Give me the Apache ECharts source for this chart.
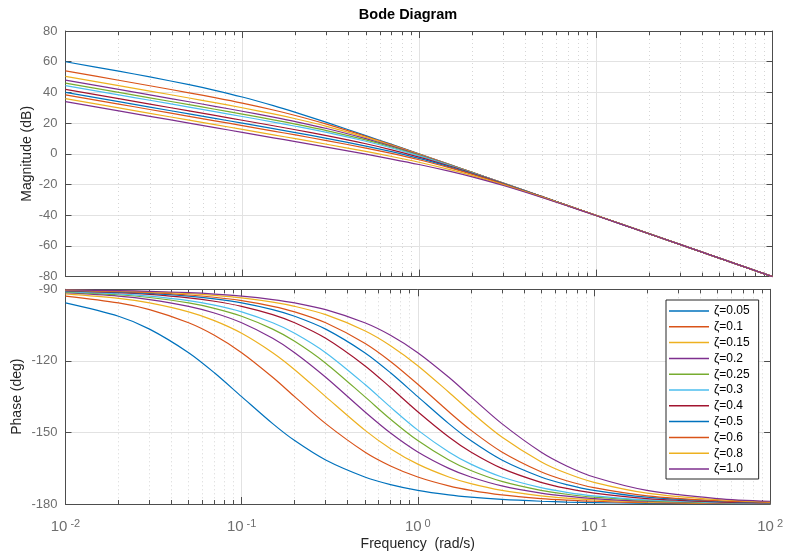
<!DOCTYPE html>
<html><head><meta charset="utf-8">
<script src="https://cdn.jsdelivr.net/npm/echarts@6/dist/echarts.min.js"></script>
<style>html,body{margin:0;padding:0;background:#fff}#c{width:786px;height:552px}</style>
</head><body><div id="c"></div>
<script>
// ---- data ----
const freq = [0.01,0.02,0.03,0.05,0.07,0.1,0.15,0.2,0.3,0.5,0.7,1,1.5,2,3,5,7,10,20,50,100];
const zetaNames = ['ζ=0.05','ζ=0.1','ζ=0.15','ζ=0.2','ζ=0.25','ζ=0.3','ζ=0.4','ζ=0.5','ζ=0.6','ζ=0.8','ζ=1.0'];

const mag_005 = [59.96,53.81,50.08,45.05,41.37,36.99,31.36,26.99,20.46,11.87,6.11,-0.04,-7.06,-12.05,-19.09,-27.96,-33.81,-40.00,-52.04,-67.96,-80.00];
const mag_010 = [53.97,47.92,44.34,39.74,36.58,33.01,28.52,24.95,19.32,11.40,5.86,-0.17,-7.12,-12.09,-19.10,-27.97,-33.81,-40.00,-52.04,-67.96,-80.00];
const mag_015 = [50.45,44.42,40.87,36.36,33.33,30.00,25.97,22.84,17.91,10.71,5.46,-0.37,-7.21,-12.14,-19.13,-27.97,-33.81,-40.00,-52.04,-67.96,-80.00];
const mag_020 = [47.96,41.93,38.39,33.91,30.93,27.70,23.87,20.97,16.48,9.89,4.97,-0.64,-7.34,-12.21,-19.16,-27.99,-33.82,-40.01,-52.04,-67.96,-80.00];
const mag_025 = [46.02,39.99,36.46,32.00,29.03,25.85,22.12,19.36,15.14,9.03,4.41,-0.97,-7.50,-12.30,-19.20,-28.00,-33.83,-40.01,-52.04,-67.96,-80.00];
const mag_030 = [44.44,38.41,34.88,30.43,27.48,24.32,20.65,17.96,13.93,8.17,3.80,-1.34,-7.69,-12.42,-19.25,-28.02,-33.84,-40.02,-52.05,-67.96,-80.00];
const mag_040 = [41.94,35.91,32.39,27.94,25.00,21.87,18.27,15.65,11.82,6.53,2.57,-2.15,-8.13,-12.69,-19.38,-28.07,-33.86,-40.03,-52.05,-67.96,-80.00];
const mag_050 = [40.00,33.98,30.45,26.01,23.08,19.96,16.38,13.81,10.08,5.05,1.37,-3.01,-8.64,-13.01,-19.54,-28.13,-33.89,-40.04,-52.05,-67.96,-80.00];
const mag_060 = [38.42,32.39,28.87,24.43,21.50,18.39,14.83,12.28,8.61,3.74,0.24,-3.87,-9.19,-13.38,-19.73,-28.20,-33.93,-40.06,-52.06,-67.96,-80.00];
const mag_080 = [35.92,29.90,26.37,21.93,19.01,15.90,12.36,9.83,6.23,1.53,-1.75,-5.51,-10.34,-14.19,-20.17,-28.38,-34.03,-40.11,-52.07,-67.96,-80.00];
const mag_100 = [33.98,27.96,24.44,20.00,17.07,13.97,10.43,7.92,4.34,-0.26,-3.42,-6.99,-11.48,-15.05,-20.68,-28.60,-34.15,-40.17,-52.09,-67.97,-80.00];

const phase_005 = [-95.71,-101.31,-106.70,-116.57,-124.99,-135.00,-146.31,-153.43,-161.57,-168.69,-171.87,-174.29,-176.19,-177.14,-178.09,-178.85,-179.18,-179.43,-179.71,-179.89,-179.94];
const phase_010 = [-92.86,-95.71,-98.53,-104.04,-109.29,-116.57,-126.87,-135.00,-146.31,-158.20,-164.05,-168.69,-172.41,-174.29,-176.19,-177.71,-178.36,-178.85,-179.43,-179.77,-179.89];
const phase_015 = [-91.91,-93.81,-95.71,-99.46,-103.13,-108.43,-116.57,-123.69,-135.00,-149.04,-156.80,-163.30,-168.69,-171.47,-174.29,-176.57,-177.55,-178.28,-179.14,-179.66,-179.83];
const phase_020 = [-91.43,-92.86,-94.29,-97.13,-99.93,-104.04,-110.56,-116.57,-126.87,-141.34,-150.26,-158.20,-165.07,-168.69,-172.41,-175.43,-176.73,-177.71,-178.85,-179.54,-179.77];
const phase_025 = [-91.15,-92.29,-93.43,-95.71,-97.97,-101.31,-106.70,-111.80,-120.96,-135.00,-144.46,-153.43,-161.57,-165.96,-170.54,-174.29,-175.91,-177.14,-178.57,-179.43,-179.71];
const phase_030 = [-90.95,-91.91,-92.86,-94.76,-96.65,-99.46,-104.04,-108.43,-116.57,-129.81,-139.40,-149.04,-158.20,-163.30,-168.69,-173.16,-175.10,-176.57,-178.28,-179.31,-179.66];
const phase_040 = [-90.72,-91.43,-92.15,-93.58,-95.00,-97.13,-100.62,-104.04,-110.56,-122.01,-131.19,-141.34,-151.93,-158.20,-165.07,-170.91,-173.48,-175.43,-177.71,-179.08,-179.54];
const phase_050 = [-90.57,-91.15,-91.72,-92.86,-94.00,-95.71,-98.53,-101.31,-106.70,-116.57,-124.99,-135.00,-146.31,-153.43,-161.57,-168.69,-171.87,-174.29,-177.14,-178.85,-179.43];
const phase_060 = [-90.48,-90.95,-91.43,-92.39,-93.34,-94.76,-97.13,-99.46,-104.04,-112.62,-120.26,-129.81,-141.34,-149.04,-158.20,-166.50,-170.27,-173.16,-176.57,-178.62,-179.31];
const phase_080 = [-90.36,-90.72,-91.07,-91.79,-92.51,-93.58,-95.36,-97.13,-100.62,-107.35,-113.63,-122.01,-133.15,-141.34,-151.93,-162.26,-167.13,-170.91,-175.43,-178.17,-179.08];
const phase_100 = [-90.29,-90.57,-90.86,-91.43,-92.00,-92.86,-94.29,-95.71,-98.53,-104.04,-109.29,-116.57,-126.87,-135.00,-146.31,-158.20,-164.05,-168.69,-174.29,-177.71,-178.85];

const majorTicksX = [0.01,0.1,1,10,100];
const minorTicksX = [0.02,0.03,0.04,0.05,0.06,0.07,0.08,0.09,0.2,0.3,0.4,0.5,0.6,0.7,0.8,0.9,2,3,4,5,6,7,8,9,20,30,40,50,60,70,80,90];
const magTicks = {min:-80, max:80, interval:20};
const phaseTicks = {min:-180, max:-90, interval:30};

const magSeries = [mag_005,mag_010,mag_015,mag_020,mag_025,mag_030,mag_040,mag_050,mag_060,mag_080,mag_100];
const phaseSeries = [phase_005,phase_010,phase_015,phase_020,phase_025,phase_030,phase_040,phase_050,phase_060,phase_080,phase_100];

// ---- style ----
const palette = ['#0072BD','#D95319','#EDB120','#7E2F8E','#77AC30','#4DBEEE','#A2142F'];
const FONT = 'Liberation Sans, Arial, Helvetica, sans-serif';
const axisColor = '#4d4d4d';
const labelColor = '#6e6e6e';
const gridMajor = '#e2e2e2';
const gridMinor = '#d6d6d6';

function xAxes(gi, withLabels) {
  const base = {type:'log', logBase:10, min:0.01, max:100, gridIndex:gi};
  return [
    Object.assign({}, base, {position:'bottom',
      axisLine:{show:true, onZero:false, lineStyle:{color:axisColor, width:1}},
      axisTick:{show:true, inside:true, length:7, customValues:majorTicksX, lineStyle:{color:axisColor}},
      axisLabel:{show:withLabels, customValues:majorTicksX, margin:14, fontFamily:FONT,
        formatter: v => '{b|10}{s|' + Math.round(Math.log10(v)) + '}',
        rich:{b:{fontSize:15, color:labelColor, fontFamily:FONT, verticalAlign:'bottom', lineHeight:16},
              s:{fontSize:11, color:labelColor, fontFamily:FONT, verticalAlign:'top', padding:[0,0,0,3], lineHeight:12}}},
      splitLine:{show:true, lineStyle:{color:gridMajor, width:1}},
      name: withLabels ? 'Frequency  (rad/s)' : '', nameLocation:'middle', nameGap:33, nameMoveOverlap:false,
      nameTextStyle:{fontSize:14, color:'#262626', fontFamily:FONT}
    }),
    Object.assign({}, base, {position:'top',
      axisLine:{show:true, onZero:false, lineStyle:{color:axisColor, width:1}},
      axisTick:{show:true, inside:true, length:7, customValues:majorTicksX, lineStyle:{color:axisColor}},
      axisLabel:{show:false}, splitLine:{show:false}
    }),
    Object.assign({}, base, {position:'bottom',
      axisLine:{show:false, onZero:false},
      axisTick:{show:true, inside:true, length:4, customValues:minorTicksX, lineStyle:{color:axisColor}},
      axisLabel:{show:false},
      splitLine:{show:true, lineStyle:{color:gridMinor, width:1, type:[1,3]}}
    }),
    Object.assign({}, base, {position:'top',
      axisLine:{show:false, onZero:false},
      axisTick:{show:true, inside:true, length:4, customValues:minorTicksX, lineStyle:{color:axisColor}},
      axisLabel:{show:false}, splitLine:{show:false}
    })
  ];
}

function yAxes(gi, ticks, name, gap) {
  return [
    {type:'value', gridIndex:gi, position:'left', min:ticks.min, max:ticks.max, interval:ticks.interval,
     axisLine:{show:true, onZero:false, lineStyle:{color:axisColor}},
     axisTick:{show:true, inside:true, length:6, lineStyle:{color:axisColor}},
     axisLabel:{show:true, color:labelColor, fontSize:13, fontFamily:FONT, margin:8},
     splitLine:{show:true, lineStyle:{color:gridMajor, width:1}},
     name:name, nameLocation:'middle', nameGap:gap, nameRotate:90, nameMoveOverlap:false,
     nameTextStyle:{fontSize:14, color:'#262626', fontFamily:FONT}},
    {type:'value', gridIndex:gi, position:'right', min:ticks.min, max:ticks.max, interval:ticks.interval,
     axisLine:{show:true, onZero:false, lineStyle:{color:axisColor}},
     axisTick:{show:true, inside:true, length:6, lineStyle:{color:axisColor}},
     axisLabel:{show:false}, splitLine:{show:false}}
  ];
}

const series = [];
magSeries.forEach((arr, i) => {
  series.push({type:'line', name:zetaNames[i], xAxisIndex:0, yAxisIndex:0,
    data: freq.map((f, j) => [f, arr[j]]), symbol:'none', smooth:0.3,
    lineStyle:{width:1.2, color:palette[i % palette.length]}, itemStyle:{color:palette[i % palette.length]},
    clip:true, animation:false, z:2});
});
phaseSeries.forEach((arr, i) => {
  series.push({type:'line', name:zetaNames[i], xAxisIndex:4, yAxisIndex:2,
    data: freq.map((f, j) => [f, arr[j]]), symbol:'none', smooth:0.3,
    lineStyle:{width:1.2, color:palette[i % palette.length]}, itemStyle:{color:palette[i % palette.length]},
    clip:true, animation:false, z:2});
});

const chart = echarts.init(document.getElementById('c'), null, {renderer:'canvas'});
chart.setOption({
  backgroundColor:'#ffffff',
  animation:false,
  textStyle:{fontFamily:FONT},
  graphic:[{type:'text', x:408, y:15, style:{text:'Bode Diagram', fontSize:14.5, fontWeight:'bold', fill:'#000', fontFamily:FONT, textAlign:'center', textVerticalAlign:'middle'}}],
  grid:[
    {left:65.5, right:13.5, top:31, height:245.6, containLabel:false},
    {left:65.5, right:13.5, top:289.3, height:219, containLabel:false}
  ],
  xAxis: xAxes(0, false).concat(xAxes(1, true)),
  yAxis: yAxes(0, magTicks, 'Magnitude (dB)', 31).concat(yAxes(1, phaseTicks, 'Phase (deg)', 41)),
  legend:{
    show:true, data:zetaNames, orient:'vertical', left:666, top:300,
    padding:[5,9,4,3], itemGap:3.8, itemWidth:40, itemHeight:1.5, icon:'rect',
    backgroundColor:'#fff', borderColor:'#262626', borderWidth:1,
    textStyle:{fontSize:12, color:'#000', fontFamily:FONT, lineHeight:12},
    selectedMode:false
  },
  series: series
});
</script>
</body></html>
